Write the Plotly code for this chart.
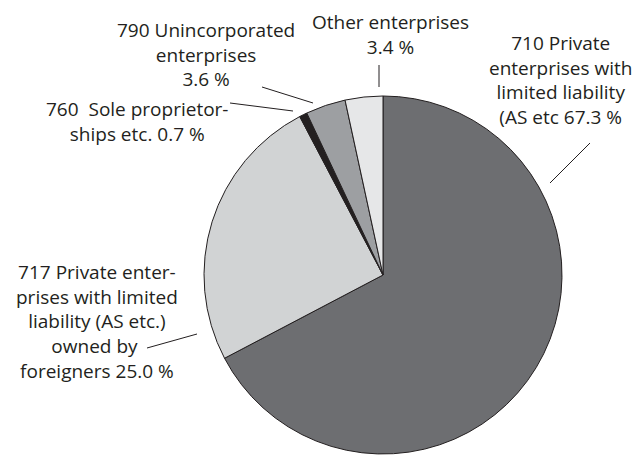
import plotly.graph_objects as go

W, H = 640, 455

labels = ["710 Private enterprises with limited liability (AS etc",
          "717 Private enterprises with limited liability (AS etc.) owned by foreigners",
          "760 Sole proprietorships etc.",
          "790 Unincorporated enterprises",
          "Other enterprises"]
values = [67.3, 25.0, 0.7, 3.6, 3.4]
colors = ["#6d6e71", "#d1d3d4", "#231f20", "#9d9fa2", "#e6e7e8"]

label_texts = [
    "710 Private<br>enterprises with<br>limited liability<br>(AS etc 67.3 %",
    "717 Private enter-<br>prises with limited<br>liability (AS etc.)<br>owned by <br>foreigners 25.0 %",
    "760  Sole proprietor-<br>ships etc. 0.7 %",
    "790 Unincorporated<br>enterprises<br>3.6 %",
    "Other enterprises<br>3.4 %",
]
# label centres (pixels)
label_pos = [(560, 80), (97, 321), (137, 122), (206, 54), (390, 35)]
# leader lines (pixels): x0, y0, x1, y1
leaders = [(590, 143, 550, 183), (147, 348, 197, 334), (230, 103, 293, 111),
           (262, 87, 313, 103), (379, 65, 379, 87)]

cx, cy, r = 383, 275, 179

fig = go.Figure(go.Pie(
    values=values, labels=labels, sort=False, direction="clockwise", rotation=0,
    marker=dict(colors=colors, line=dict(color="#231f20", width=1)),
    textinfo="none", hoverinfo="label+percent", showlegend=False,
    domain=dict(x=[(cx - r) / W, (cx + r) / W], y=[1 - (cy + r) / H, 1 - (cy - r) / H]),
))

def px(x):
    return x / W

def py(y):
    return 1 - y / H

annotations = []
for t, (x, y) in zip(label_texts, label_pos):
    annotations.append(dict(text=t, x=px(x), y=py(y), xref="paper", yref="paper",
                            xanchor="center", yanchor="middle", showarrow=False,
                            align="center",
                            font=dict(family="Open Sans", size=19, color="#231f20")))
shapes = []
for x0, y0, x1, y1 in leaders:
    shapes.append(dict(type="line", xref="paper", yref="paper", x0=px(x0), y0=py(y0),
                       x1=px(x1), y1=py(y1), line=dict(color="#231f20", width=1)))

fig.update_layout(width=W, height=H, margin=dict(l=0, r=0, t=0, b=0),
                  paper_bgcolor="white", plot_bgcolor="white",
                  annotations=annotations, shapes=shapes)
fig.write_html("out.html", config={"displayModeBar": False},
               post_script="document.body.style.margin='0';")
